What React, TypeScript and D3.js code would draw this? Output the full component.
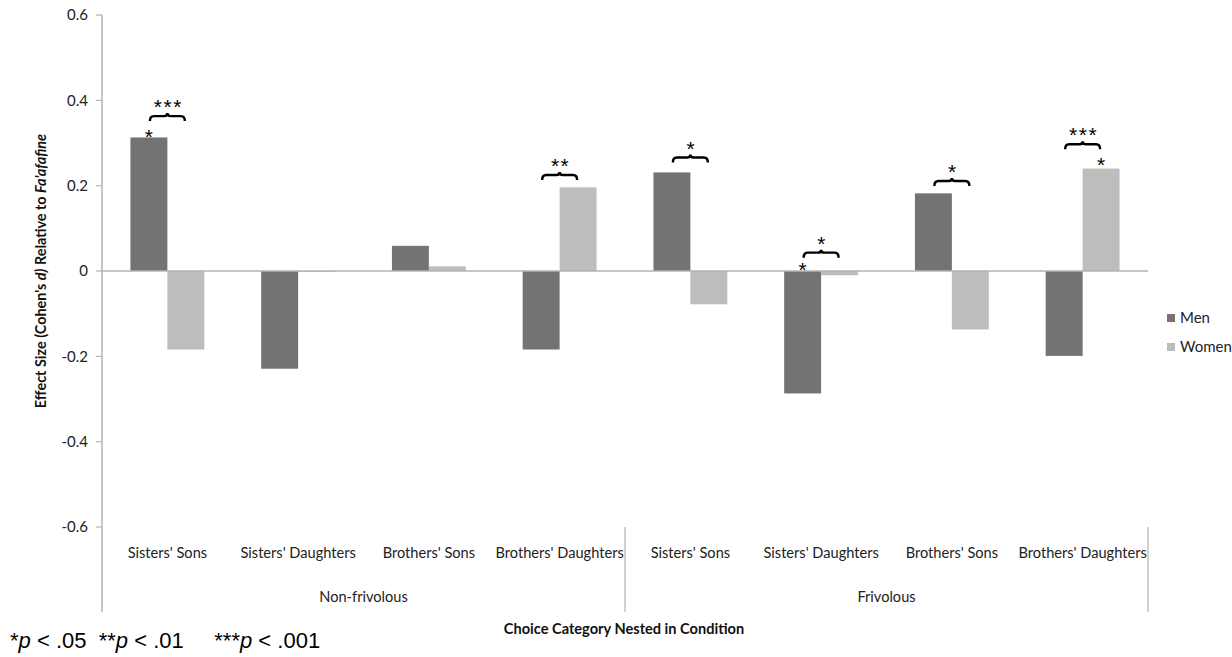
import React from "react";
import * as d3 from "d3";

const categories = ["Sisters' Sons", "Sisters' Daughters", "Brothers' Sons", "Brothers' Daughters", "Sisters' Sons", "Sisters' Daughters", "Brothers' Sons", "Brothers' Daughters"];
const groups = ["Non-frivolous", "Frivolous"];
const series = ["Men", "Women"];
const menValues = [0.313, -0.229, 0.059, -0.184, 0.231, -0.287, 0.182, -0.199];
const womenValues = [-0.184, -0.002, 0.011, 0.196, -0.078, -0.010, -0.137, 0.240];
const yTicks = [-0.6, -0.4, -0.2, 0, 0.2, 0.4, 0.6];
const colors = ["#737373", "#bdbdbd"];
// brackets comparing men vs women: category index, stars, level (data units)
const bracketCats = [0, 3, 4, 5, 6, 7];
const bracketStars = ["***", "**", "*", "*", "*", "***"];
const bracketLevels = [0.363, 0.225, 0.266, 0.043, 0.211, 0.297];
// single-bar markers: category index, series index, level (data units)
const markCats = [0, 5, 7];
const markSeries = [0, 0, 1];
const markLevels = [0.323, 0.012, 0.258];

const W = 1232, H = 657;
const left = 102, right = 1148, top = 15, bottom = 527;
const font = "Lato, 'Open Sans', sans-serif";
const starFont = "'Liberation Sans', Arial, sans-serif";

export default function App() {
  const x = d3.scaleBand<number>().domain(d3.range(categories.length)).range([left, right]);
  const bw = x.bandwidth();
  const xs = d3.scaleBand<string>().domain(series).range([0, bw]).paddingOuter(0.77);
  const y = d3.scaleLinear().domain([-0.6, 0.6]).range([bottom, top]);
  const data = [menValues, womenValues];
  const fmt = (v: number) => (v === 0 ? "0" : v.toFixed(1));

  const bracketPath = (cx: number, yy: number) => {
    const h = 17.5;
    const x1 = cx - h, x2 = cx + h;
    return `M${x1},${yy + 5} Q${x1},${yy} ${x1 + 4},${yy} L${cx - 3},${yy} Q${cx},${yy} ${cx},${yy - 3} Q${cx},${yy} ${cx + 3},${yy} L${x2 - 4},${yy} Q${x2},${yy} ${x2},${yy + 5}`;
  };

  return (
    <svg width={W} height={H} style={{ position: "absolute", left: 0, top: 0, background: "#fff" }} fontFamily={font}>
      {/* bars */}
      {data.map((vals, si) =>
        vals.map((v, i) => {
          const bx = (x(i) as number) + (xs(series[si]) as number);
          const y0 = y(0), y1 = y(v);
          return (
            <rect key={`b${si}-${i}`} x={bx} y={Math.min(y0, y1)} width={xs.bandwidth()} height={Math.max(Math.abs(y1 - y0), 0.8)} fill={colors[si]} />
          );
        })
      )}
      {/* zero line */}
      <line x1={left} x2={right} y1={y(0)} y2={y(0)} stroke="#b3b3b3" strokeWidth={1.5} />
      {/* y axis */}
      <line x1={left} x2={left} y1={top} y2={612} stroke="#b3b3b3" strokeWidth={1.5} />
      {yTicks.map((t) => (
        <g key={t}>
          <line x1={left - 6} x2={left} y1={y(t)} y2={y(t)} stroke="#b3b3b3" strokeWidth={1.2} />
          <text x={88} y={y(t)} dy="0.35em" textAnchor="end" fontSize={15} fill="#222">{fmt(t)}</text>
        </g>
      ))}
      {/* group separators */}
      {[4, 8].map((k) => {
        const sx = left + bw * k;
        return <line key={k} x1={sx} x2={sx} y1={bottom} y2={612} stroke="#b3b3b3" strokeWidth={1.2} />;
      })}
      {/* category labels */}
      {categories.map((c, i) => (
        <text key={`c${i}`} x={(x(i) as number) + bw / 2} y={558} textAnchor="middle" fontSize={14.6} fill="#222">{c}</text>
      ))}
      {groups.map((g, gi) => (
        <text key={g} x={left + bw * (gi * 4 + 2)} y={602} textAnchor="middle" fontSize={14.6} fill="#222">{g}</text>
      ))}
      {/* axis titles */}
      <text x={624} y={634} textAnchor="middle" fontSize={14.6} fontWeight="bold" fill="#111">Choice Category Nested in Condition</text>
      <text transform={`translate(46,${y(0)}) rotate(-90)`} textAnchor="middle" fontSize={14.4} fontWeight="bold" fill="#111">
        Effect Size (Cohen's <tspan fontStyle="italic">d)</tspan> Relative to <tspan fontStyle="italic">Fa'afafine</tspan>
      </text>
      {/* brackets */}
      {bracketCats.map((ci, k) => {
        const cx = (x(ci) as number) + bw / 2;
        const yy = y(bracketLevels[k]);
        return (
          <g key={`br${k}`}>
            <path d={bracketPath(cx, yy)} fill="none" stroke="#000" strokeWidth={2.4} />
            <text x={cx + 1} y={yy - 2} textAnchor="middle" fontSize={21} fontFamily={starFont} letterSpacing={1.5}>{bracketStars[k]}</text>
          </g>
        );
      })}
      {markCats.map((ci, k) => {
        const bx = (x(ci) as number) + (xs(series[markSeries[k]]) as number) + xs.bandwidth() / 2;
        return (
          <text key={`m${k}`} x={bx} y={y(markLevels[k]) + 11} textAnchor="middle" fontSize={21} fontFamily={starFont}>*</text>
        );
      })}
      {/* legend */}
      {series.map((s, si) => (
        <g key={s} transform={`translate(1167,${314 + si * 29})`}>
          <rect width={8} height={8} fill={colors[si]} />
          <text x={13} y={9} fontSize={15} fill="#222">{s}</text>
        </g>
      ))}
      {/* footnote */}
      <text x={10} y={648} fontSize={22} fontFamily={starFont} fill="#000" xmlSpace="preserve">
        *<tspan fontStyle="italic">p</tspan> {"< .05  **"}<tspan fontStyle="italic">p</tspan>{" < .01     ***"}<tspan fontStyle="italic">p</tspan>{" < .001"}
      </text>
    </svg>
  );
}
